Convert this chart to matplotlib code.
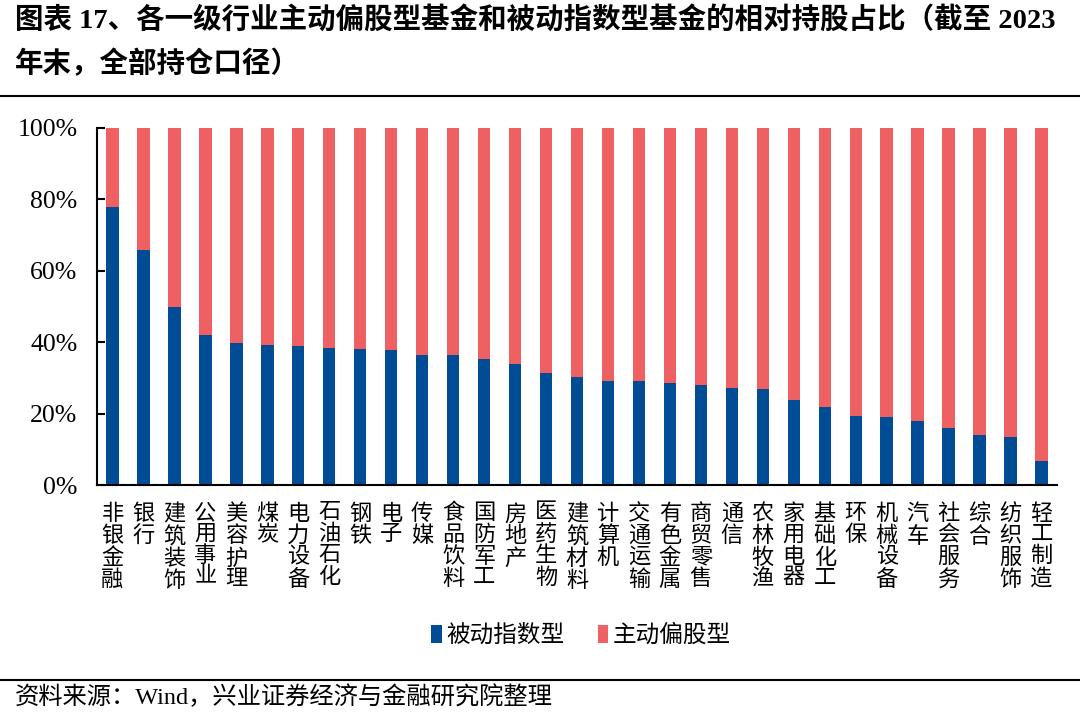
import numpy as np
import matplotlib.pyplot as plt

plt.rcParams['font.family'] = ['Liberation Serif', 'Noto Sans CJK SC']

industries = ['非银金融', '银行', '建筑装饰', '公用事业', '美容护理', '煤炭', '电力设备',
              '石油石化', '钢铁', '电子', '传媒', '食品饮料', '国防军工', '房地产',
              '医药生物', '建筑材料', '计算机', '交通运输', '有色金属', '商贸零售',
              '通信', '农林牧渔', '家用电器', '基础化工', '环保', '机械设备', '汽车',
              '社会服务', '综合', '纺织服饰', '轻工制造']
passive = [77.8, 65.9, 50.0, 42.1, 39.9, 39.1, 38.8, 38.5, 38.2, 37.9, 36.5, 36.5,
           35.2, 33.9, 31.3, 30.2, 29.1, 29.0, 28.6, 28.0, 27.2, 27.0, 23.8, 21.9,
           19.2, 19.1, 18.0, 16.1, 14.1, 13.5, 6.7]
active = [100 - v for v in passive]

blue = '#004D96'
red = '#EF6063'

fig = plt.figure(figsize=(10.8, 7.17), dpi=100)
ax = fig.add_axes([97 / 1080, 1 - 485 / 717, 960 / 1080, 357 / 717])

x = np.arange(len(industries))
ax.bar(x, passive, width=0.4, color=blue, label='被动指数型')
ax.bar(x, active, width=0.4, bottom=passive, color=red, label='主动偏股型')

ax.set_ylim(0, 100)
ax.set_xlim(-0.5, len(industries) - 0.5)
ax.set_yticks([0, 20, 40, 60, 80, 100])
ax.set_yticklabels(['0%', '20%', '40%', '60%', '80%', '100%'], fontsize=18.5)
ax.tick_params(axis='y', direction='in', length=6, width=1.5, pad=14)
ax.set_xticks(x)
ax.set_xticklabels(['\n'.join(s) for s in industries], fontsize=16,
                   linespacing=1.1, va='top')
ax.tick_params(axis='x', length=0, pad=14)
for s in ['top', 'right']:
    ax.spines[s].set_visible(False)
for s in ['left', 'bottom']:
    ax.spines[s].set_linewidth(1.5)

fig.legend(loc='center', bbox_to_anchor=(0.538, 1 - 636 / 717), ncol=2, frameon=False,
           fontsize=17, handlelength=0.45, handleheight=0.75, handletextpad=0.2,
           columnspacing=1.4)

fig.text(15 / 1080, 1 - 20 / 717, '图表 17、各一级行业主动偏股型基金和被动指数型基金的相对持股占比（截至 2023',
         fontsize=20.5, fontweight='bold', va='center', ha='left')
fig.text(15 / 1080, 1 - 64 / 717, '年末，全部持仓口径）',
         fontsize=20.5, fontweight='bold', va='center', ha='left')
fig.add_artist(plt.Line2D([0, 1], [1 - 96 / 717, 1 - 96 / 717], color='black', lw=1.5))
fig.add_artist(plt.Line2D([0, 1], [1 - 680 / 717, 1 - 680 / 717], color='black', lw=1.5))
fig.text(15 / 1080, 1 - 697 / 717, '资料来源：Wind，兴业证券经济与金融研究院整理',
         fontsize=17.5, va='center', ha='left')

fig.savefig('out.png', dpi=100)
